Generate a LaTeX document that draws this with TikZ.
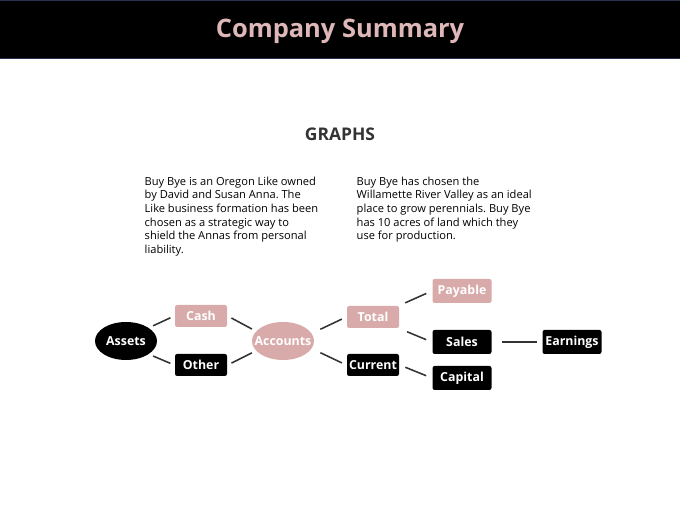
\documentclass[tikz,border=0pt]{standalone}
\usepackage{fontspec}
\setmainfont{Open Sans}
\frenchspacing
\usetikzlibrary{shapes,positioning}
\definecolor{rosy}{RGB}{217,170,170}
\definecolor{titlepink}{RGB}{222,184,184}
\definecolor{navyedge}{RGB}{40,48,80}
\definecolor{darkline}{RGB}{51,51,51}

\begin{document}
\begin{tikzpicture}
[x=0.025cm, y=-0.025cm, line width=1pt,
pinkbox/.style={rectangle, rounded corners=1.5pt, fill=rosy, text=white, font=\bfseries\fontsize{8.8}{10}\selectfont, inner sep=0pt, minimum width=52*0.025cm, minimum height=22*0.025cm},
blackbox/.style={rectangle, rounded corners=1.5pt, fill=black, text=white, font=\bfseries\fontsize{8.8}{10}\selectfont, inner sep=0pt, minimum width=52*0.025cm, minimum height=22*0.025cm},
widebox/.style={minimum width=59*0.025cm, minimum height=24*0.025cm},
blackoval/.style={ellipse, fill=black, text=white, font=\bfseries\fontsize{8.8}{10}\selectfont, inner xsep=-5.5pt, inner ysep=0pt, minimum width=62*0.025cm, minimum height=38*0.025cm},
pinkoval/.style={ellipse, fill=rosy, text=white, font=\bfseries\fontsize{8.8}{10}\selectfont, inner xsep=-5.5pt, inner ysep=0pt, minimum width=62*0.025cm, minimum height=38*0.025cm},
link/.style={draw=darkline, line width=1.1pt, shorten <=3pt, shorten >=3pt},
bodytext/.style={anchor=north west, align=left, inner sep=0pt, text=black, font=\fontsize{7.9}{9.75}\selectfont}
]

\useasboundingbox (0,0) rectangle (680,510);
\fill[white] (0,0) rectangle (680,510);

\fill[black] (0,0) rectangle (680,58);
\draw[navyedge, line width=0.6pt] (0,0.5) -- (680,0.5);
\draw[navyedge, line width=0.6pt] (0,58) -- (680,58);
\node[text=titlepink, font=\bfseries\fontsize{18.1}{21}\selectfont] (title) at (340,31) {Company Summary};

\node[text=darkline, font=\bfseries\fontsize{12.4}{14}\selectfont] (graphs) at (340,134) {GRAPHS};

\node[bodytext] (leftpara) at (144,176) {Buy Bye is an Oregon Like owned\\by David and Susan Anna. The\\Like business formation has been\\chosen as a strategic way to\\shield the Annas from personal\\liability.};
\node[bodytext] (rightpara) at (356,176) {Buy Bye has chosen the\\Willamette River Valley as an ideal\\place to grow perennials. Buy Bye\\has 10 acres of land which they\\use for production.};

\node[blackoval] (assets) at (126,341) {Assets};
\node[pinkbox] (cash) at (201,316) {Cash};
\node[blackbox] (other) at (201,365) {Other};
\node[pinkoval] (accounts) at (283,341) {Accounts};
\node[pinkbox] (total) at (373,317) {Total};
\node[blackbox] (current) at (373,365) {Current};
\node[pinkbox,widebox] (payable) at (462,291) {Payable};
\node[blackbox,widebox] (sales) at (462,342) {Sales};
\node[blackbox,widebox] (capital) at (462,378) {Capital};
\node[blackbox,widebox] (earnings) at (572,342) {Earnings};

\draw[link] (assets.30) -- (cash.west);
\draw[link] (assets.-30) -- (other.west);
\draw[link] (cash.east) -- (accounts.160);
\draw[link] (other.east) -- (accounts.200);
\draw[link, shorten <=6.5pt, shorten >=3.5pt] (accounts.15) -- (total.west);
\draw[link, shorten <=6.5pt, shorten >=3.5pt] (accounts.-15) -- (current.west);
\draw[link, shorten <=4.3pt, shorten >=4.3pt] (total.north east) -- (payable.west);
\draw[link, shorten <=5.7pt, shorten >=4.3pt] (total.south east) -- (sales.west);
\draw[link, shorten <=4.3pt, shorten >=4.3pt] (current.east) -- (capital.west);
\draw[link, shorten <=7pt, shorten >=3.5pt] (sales) -- (earnings);
\end{tikzpicture}
\end{document}
